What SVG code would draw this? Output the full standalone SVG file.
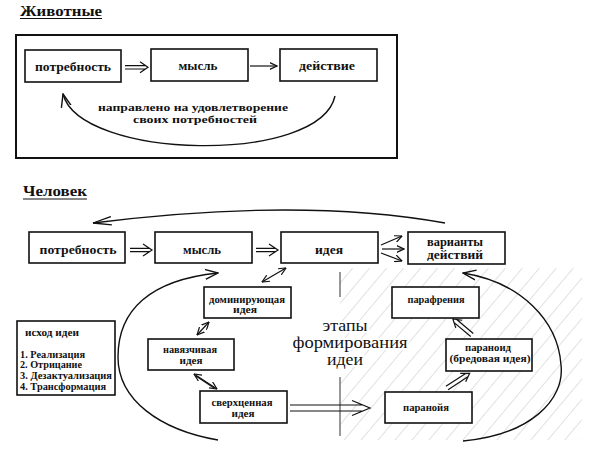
<svg xmlns="http://www.w3.org/2000/svg" width="591" height="473" viewBox="0 0 591 473" font-family="Liberation Serif, DejaVu Serif, Times New Roman, serif">
<style>
.box{fill:#fff;stroke:#111;stroke-width:1.6}
.t{font-weight:bold;fill:#111;text-anchor:middle;font-size:12px}
.m{font-size:11px}
.s{font-size:10px}
.l{text-anchor:start;font-size:10px}
.title{font-weight:bold;fill:#111;font-size:15px}
.big{fill:#111;text-anchor:middle;font-size:16px;stroke:#fff;stroke-width:4;paint-order:stroke;stroke-linejoin:round}
.ln{fill:none;stroke:#111;stroke-width:1.2}
.arc{fill:none;stroke:#111;stroke-width:1.4}
</style>
<defs>
<marker id="ah" viewBox="0 0 8 8" refX="7.5" refY="4" markerWidth="8" markerHeight="8" markerUnits="userSpaceOnUse" orient="auto-start-reverse"><path d="M0,0.5 L7.5,4 L0,7.5" fill="none" stroke="#111" stroke-width="1.2"/></marker>
<marker id="ahL" viewBox="0 0 14 12" refX="13" refY="6" markerWidth="14" markerHeight="12" markerUnits="userSpaceOnUse" orient="auto"><path d="M0,1 L13,6 L0,11" fill="none" stroke="#111" stroke-width="1.4"/></marker>
<marker id="ahXL" viewBox="0 0 19 10" refX="18.5" refY="5" markerWidth="19" markerHeight="10" markerUnits="userSpaceOnUse" orient="auto"><path d="M0,0.8 L18.5,5 L0,9.2" fill="none" stroke="#111" stroke-width="1.3"/></marker>
<pattern id="hatch" width="13" height="13" patternUnits="userSpaceOnUse" patternTransform="rotate(40)"><line x1="0" y1="0" x2="0" y2="13" stroke="#c4c4c4" stroke-width="1"/></pattern>
</defs>
<rect width="591" height="473" fill="#fff"/>

<g id="title-animals">
<text class="title" x="20" y="16" textLength="82" lengthAdjust="spacingAndGlyphs">Животные</text>
<line x1="20" y1="18.5" x2="102" y2="18.5" stroke="#111" stroke-width="1"/>
</g>
<rect id="frame-animals" x="16" y="35" width="381" height="123" fill="none" stroke="#111" stroke-width="2"/>

<g id="a-need"><rect class="box" x="25" y="50" width="96" height="32"/><text class="t" x="73" y="71" textLength="76" lengthAdjust="spacingAndGlyphs">потребность</text></g>
<g id="a-thought"><rect class="box" x="151" y="49" width="97" height="32"/><text class="t" x="198" y="70" textLength="39" lengthAdjust="spacingAndGlyphs">мысль</text></g>
<g id="a-action"><rect class="box" x="280" y="49" width="97" height="32"/><text class="t" x="327" y="70" textLength="56" lengthAdjust="spacingAndGlyphs">действие</text></g>
<g id="a-label">
<text class="t m" x="193" y="111" textLength="190" lengthAdjust="spacingAndGlyphs">направлено на удовлетворение</text>
<text class="t m" x="195" y="123" textLength="124" lengthAdjust="spacingAndGlyphs">своих потребностей</text>
</g>

<g id="title-human">
<text class="title" x="23" y="196" textLength="64" lengthAdjust="spacingAndGlyphs">Человек</text>
<line x1="23" y1="199" x2="87" y2="199" stroke="#111" stroke-width="1"/>
</g>

<rect x="340" y="268" width="242" height="172" fill="url(#hatch)"/>
<g id="divider" stroke="#333" stroke-width="1">
<line x1="340" y1="272" x2="340" y2="297"/>
<line x1="340" y1="377" x2="340" y2="436"/>
</g>

<g id="connectors">
<path class="ln" d="M0,-1.7H20.5M0,1.7H20.5M15,-5.5L23,0L15,5.5" transform="translate(125,67.3)"/>
<line class="ln" x1="250" y1="66" x2="277" y2="66" marker-end="url(#ah)"/>
<path class="arc" d="M335,96 C320,165 80,160 63,94" marker-end="url(#ahL)"/>
<path class="ln" d="M0,-1.7H19.5M0,1.7H19.5M13,-6L22,0L13,6" transform="translate(130,250)"/>
<path class="ln" d="M0,-1.7H19.5M0,1.7H19.5M13,-6L22,0L13,6" transform="translate(256,250)"/>
<line class="ln" x1="381" y1="245" x2="402" y2="236" marker-end="url(#ah)"/>
<line class="ln" x1="382" y1="249" x2="404" y2="249" marker-end="url(#ah)"/>
<line class="ln" x1="381" y1="253" x2="402" y2="261" marker-end="url(#ah)"/>
<path class="arc" d="M445,223 Q300,197 93,223" marker-end="url(#ahXL)"/>
<path class="arc" d="M218,440 C160,430 118,400 118,357 C118,310 150,280 218,273" marker-end="url(#ahL)"/>
<path class="arc" d="M463,441 C530,435 565,400 561,365 C558,320 520,282 463,273" marker-end="url(#ahL)"/>
<line class="ln" x1="262" y1="282" x2="286" y2="268" marker-start="url(#ah)" marker-end="url(#ah)"/>
<line class="ln" x1="197" y1="335" x2="209" y2="322" marker-start="url(#ah)" marker-end="url(#ah)"/>
<line class="ln" x1="194" y1="374" x2="217" y2="389" marker-start="url(#ah)" marker-end="url(#ah)"/>
<path class="ln" d="M196,376 L214,388"/>
<path class="ln" d="M0,-3H72M0,3H72M62,-7.5L80,0L62,7.5" transform="translate(290,408)"/>
<path class="ln" d="M0,-2H24M0,2H24M19,-5L27,0L19,5" transform="translate(447,388) rotate(-33)"/>
<path class="ln" d="M0,-2H22M0,2H22M17,-5L25,0L17,5" transform="translate(472,335) rotate(-140)"/>
</g>

<g id="h-need"><rect class="box" x="29" y="232" width="96" height="31"/><text class="t" x="78" y="254" textLength="77" lengthAdjust="spacingAndGlyphs">потребность</text></g>
<g id="h-thought"><rect class="box" x="155" y="232" width="97" height="31"/><text class="t" x="202" y="254" textLength="38" lengthAdjust="spacingAndGlyphs">мысль</text></g>
<g id="h-idea"><rect class="box" x="281" y="232" width="97" height="31"/><text class="t" x="329" y="254" textLength="28" lengthAdjust="spacingAndGlyphs">идея</text></g>
<g id="h-variants"><rect class="box" x="408" y="232" width="97" height="32"/><text class="t" x="455" y="246" textLength="56" lengthAdjust="spacingAndGlyphs">варианты</text><text class="t" x="455" y="259" textLength="56" lengthAdjust="spacingAndGlyphs">действий</text></g>

<g id="dominant"><rect class="box" x="204" y="287" width="87" height="31"/><text class="t s" x="247" y="303" textLength="76" lengthAdjust="spacingAndGlyphs">доминирующая</text><text class="t s" x="245" y="313" textLength="24" lengthAdjust="spacingAndGlyphs">идея</text></g>
<g id="obsessive"><rect class="box" x="148" y="339" width="86" height="31"/><text class="t s" x="190" y="353" textLength="54" lengthAdjust="spacingAndGlyphs">навязчивая</text><text class="t s" x="191" y="364" textLength="23" lengthAdjust="spacingAndGlyphs">идея</text></g>
<g id="overvalued"><rect class="box" x="200" y="391" width="87" height="32"/><text class="t s" x="242" y="406" textLength="61" lengthAdjust="spacingAndGlyphs">сверхценная</text><text class="t s" x="243" y="417" textLength="23" lengthAdjust="spacingAndGlyphs">идея</text></g>

<g id="paraphrenia"><rect class="box" x="392" y="287" width="87" height="31"/><text class="t s" x="436" y="303" textLength="57" lengthAdjust="spacingAndGlyphs">парафрения</text></g>
<g id="paranoid"><rect class="box" x="446" y="339" width="86" height="32"/><text class="t s" x="488" y="351" textLength="46" lengthAdjust="spacingAndGlyphs">параноид</text><text class="t s" x="490" y="362" textLength="81" lengthAdjust="spacingAndGlyphs">(бредовая идея)</text></g>
<g id="paranoia"><rect class="box" x="385" y="392" width="87" height="31"/><text class="t s" x="426" y="411" textLength="46" lengthAdjust="spacingAndGlyphs">паранойя</text></g>

<g id="outcome"><rect class="box" x="17" y="321" width="98" height="74"/>
<text class="t l" x="25" y="336" textLength="54" lengthAdjust="spacingAndGlyphs">исход идеи</text>
<text class="t l" x="20" y="358" textLength="65" lengthAdjust="spacingAndGlyphs">1. Реализация</text>
<text class="t l" x="20" y="368" textLength="62" lengthAdjust="spacingAndGlyphs">2. Отрицание</text>
<text class="t l" x="20" y="379" textLength="92" lengthAdjust="spacingAndGlyphs">3. Дезактуализация</text>
<text class="t l" x="20" y="390" textLength="86" lengthAdjust="spacingAndGlyphs">4. Трансформация</text>
</g>

<g id="stages-label">
<text class="big" x="345" y="331" textLength="45" lengthAdjust="spacingAndGlyphs">этапы</text>
<text class="big" x="350" y="348" textLength="115" lengthAdjust="spacingAndGlyphs">формирования</text>
<text class="big" x="345" y="365" textLength="36" lengthAdjust="spacingAndGlyphs">идеи</text>
</g>
</svg>
